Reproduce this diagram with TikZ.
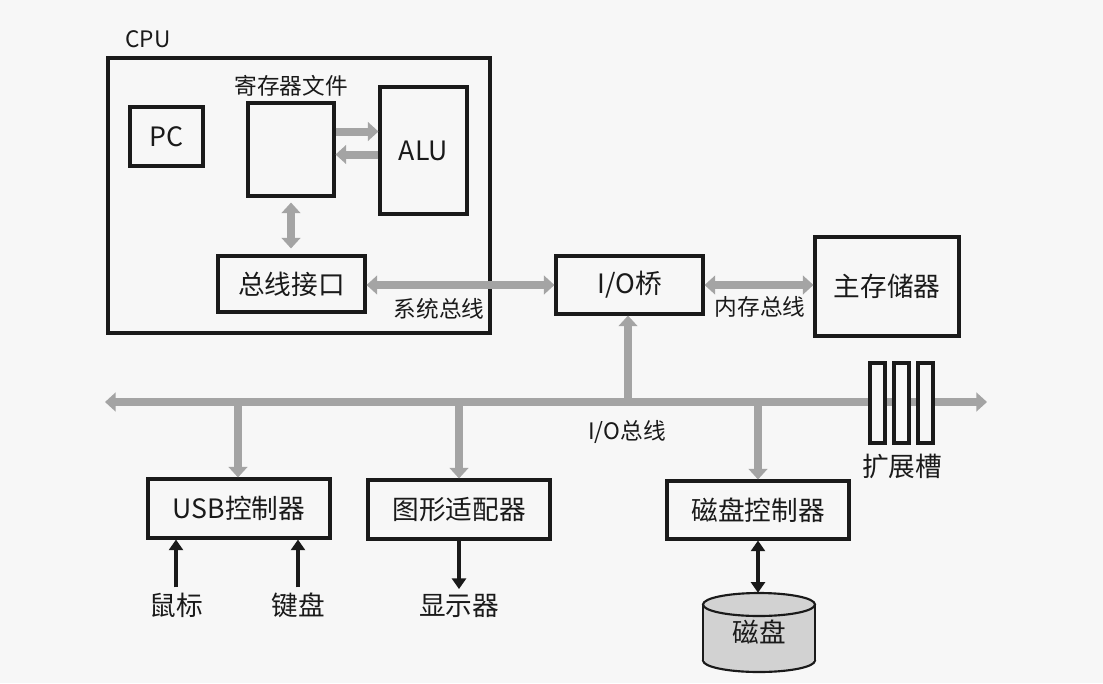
\documentclass[tikz,border=0pt]{standalone}
\usepackage{fontspec}
\setmainfont{Noto Sans CJK SC}
\usetikzlibrary{arrows.meta}
\definecolor{bg}{HTML}{F7F7F7}
\definecolor{busgray}{HTML}{A4A4A4}
\definecolor{diskgray}{HTML}{D2D2D2}
\definecolor{ink}{HTML}{1A1A1A}
\begin{document}
\begin{tikzpicture}[x=0.75pt,y=-0.75pt,
  box/.style 2 args={draw=ink, line width=2.3pt, minimum width=#1*0.75pt, minimum height=#2*0.75pt, inner sep=0pt},
  big/.style={font=\fontsize{20}{24}\selectfont, text=ink},
  small/.style={font=\fontsize{17}{20}\selectfont, text=ink},
  garrow/.style={draw=busgray, line width=6pt, -{Triangle[width=14pt,length=8pt]}},
  gdarrow/.style={draw=busgray, line width=6pt, {Triangle[width=14pt,length=8pt]}-{Triangle[width=14pt,length=8pt]}},
  karrow/.style={draw=ink, line width=2.4pt, -{Triangle[width=10.5pt,length=8pt]}},
  kdarrow/.style={draw=ink, line width=2.4pt, {Triangle[width=10.5pt,length=8pt]}-{Triangle[width=10.5pt,length=8pt]}},
  slotbox/.style={draw=ink, fill=bg, line width=2.3pt, minimum width=15*0.75pt, minimum height=80*0.75pt, inner sep=0pt}
]
\fill[bg] (0,0) rectangle (1103,683);
\useasboundingbox (0,0) rectangle (1103,683);

% CPU
\node[small, anchor=center] (cpulbl) at (148,39) {CPU};
\node[box={382}{275}] (cpu) at (299,195.5) {};
\node[box={73}{59}, big] (pc) at (166.5,136.5) {PC};
\node[box={86}{93}] (reg) at (291,149.5) {};
\node[small] (reglbl) at (291,86) {寄存器文件};
\node[box={87}{127}, big] (alu) at (423.5,150.5) {ALU};
\node[box={147}{56}, big] (bi) at (291.5,284) {总线接口};

% bridge and memory
\node[box={147}{58}, big] (iob) at (629.5,285) {I/O桥};
\node[box={144}{99}, big] (mem) at (887,286.5) {主存储器};

% devices
\node[box={182}{59}, big] (usb) at (239,508.5) {USB控制器};
\node[box={182}{59}, big] (gfx) at (459,509.5) {图形适配器};
\node[box={182}{58}, big] (dc) at (758,510) {磁盘控制器};

% CPU internal arrows
\draw[garrow] (reg.east |- 0,131.5) -- (alu.west |- 0,131.5);
\draw[garrow] (alu.west |- 0,154.5) -- (reg.east |- 0,154.5);
\draw[gdarrow, shorten <=5*0.75pt, shorten >=6*0.75pt] (reg.south) -- (reg.south |- bi.north);

% system bus and memory bus
\draw[gdarrow] (bi.east |- 0,285) -- (iob.west |- 0,285);
\node[small] (sysbus) at (439,309) {系统总线};
\draw[gdarrow] (iob.east |- 0,285) -- (mem.west |- 0,285);
\node[small] (membus) at (760,307) {内存总线};

% I/O bus
\coordinate (busL) at (105,402);
\coordinate (busR) at (987,402);
\draw[gdarrow] (busL) -- (busR);
\node[small] (iobus) at (627,432) {I/O总线};
\coordinate (j1) at (238,402);
\coordinate (j2) at (459,402);
\coordinate (j3) at (758,402);
\coordinate (j4) at (628,402);
\draw[garrow] (j4) -- (j4 |- iob.south);
\draw[garrow] (j1) -- (j1 |- usb.north);
\draw[garrow] (j2) -- (j2 |- gfx.north);
\draw[garrow] (j3) -- (j3 |- dc.north);

% expansion slots
\node[slotbox] (s1) at (877.5,403) {};
\node[slotbox] (s2) at (901.5,403) {};
\node[slotbox] (s3) at (925.5,403) {};
\node[big] (slotlbl) at (902,466) {扩展槽};

% peripherals
\node[big, inner sep=0pt] (mouse) at (176,605) {鼠标};
\node[big, inner sep=0pt] (kbd) at (298,605) {键盘};
\node[big, inner sep=0pt] (disp) at (459,606) {显示器};
\draw[karrow, shorten <=5*0.75pt] (mouse.north) -- (mouse.north |- usb.south);
\draw[karrow, shorten <=5*0.75pt] (kbd.north) -- (kbd.north |- usb.south);
\draw[karrow, shorten >=5*0.75pt] (disp.north |- gfx.south) -- (disp.north);

% disk
\fill[diskgray, draw=ink, line width=1.6pt] (759,660.5) ellipse [x radius=56, y radius=11.5];
\fill[diskgray] (703,604.5) rectangle (815,660.5);
\draw[ink, line width=1.6pt] (703,604.5) -- (703,660.5) (815,604.5) -- (815,660.5);
\filldraw[fill=diskgray, draw=ink, line width=1.6pt] (759,604.5) ellipse [x radius=56, y radius=11.5];
\node[big, minimum width=112*0.75pt, minimum height=78*0.75pt, inner sep=0pt] (disk) at (759,632) {磁盘};
\draw[kdarrow] (dc.south) -- (dc.south |- disk.north);
\end{tikzpicture}
\end{document}
